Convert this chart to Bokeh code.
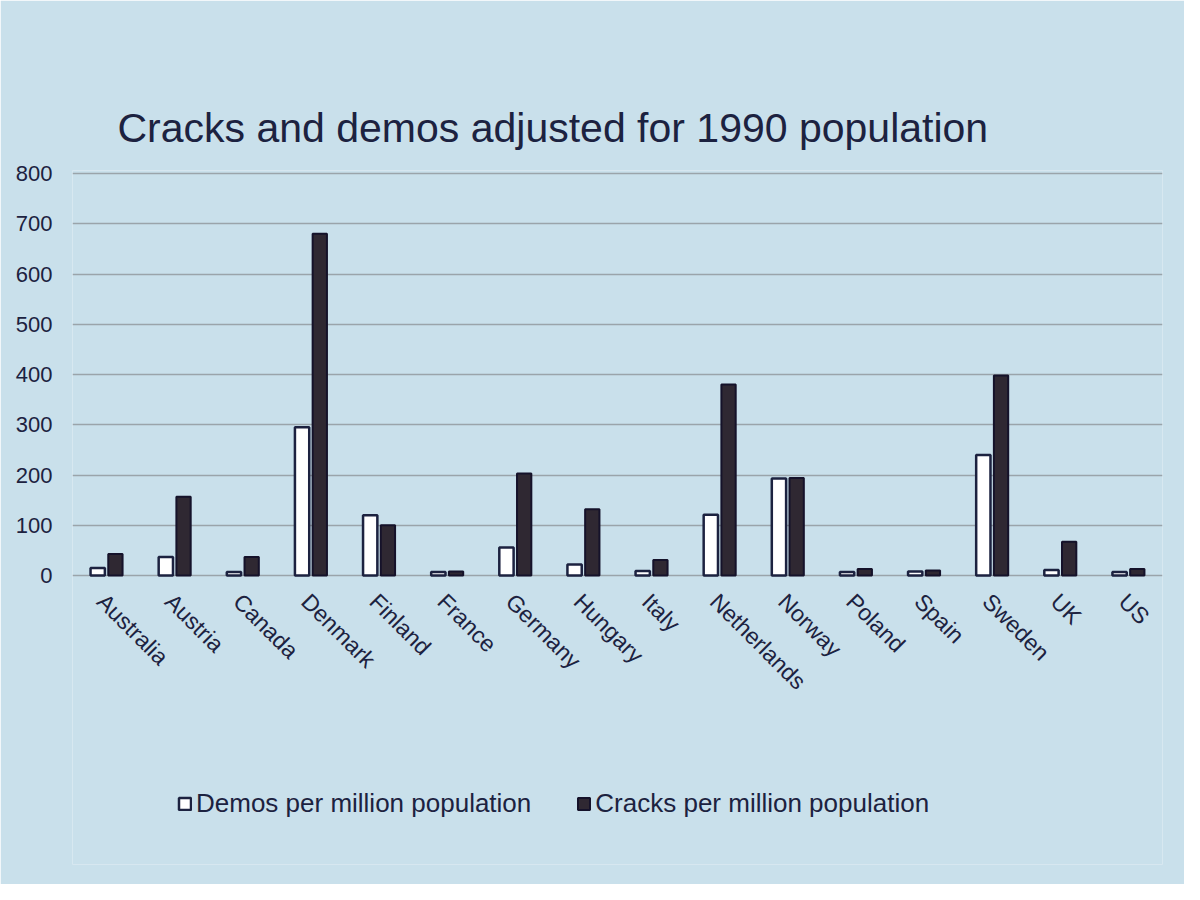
import math
from bokeh.plotting import figure
from bokeh.models import Range1d, Legend, LegendItem, FixedTicker
from bokeh.transform import dodge
from bokeh.core.properties import value
from bokeh.embed import file_html
from bokeh.resources import INLINE

countries = ["Australia", "Austria", "Canada", "Denmark", "Finland", "France",
             "Germany", "Hungary", "Italy", "Netherlands", "Norway", "Poland",
             "Spain", "Sweden", "UK", "US"]
demos = [15, 37, 7, 295, 120, 7, 56, 22, 9, 121, 193, 7, 8, 240, 11, 7]
cracks = [43, 157, 37, 680, 100, 8, 203, 132, 31, 380, 194, 13, 10, 398, 67, 13]
y_ticks = [0, 100, 200, 300, 400, 500, 600, 700, 800]

BG = "#c9e0eb"
INK = "#1c2240"
DARK = "#2f2832"
FONT = "Liberation Sans"

# frame spans from top of value area down to bottom of slide; values >= 0 use upper part
p = figure(width=1184, height=884, x_range=countries,
           y_range=Range1d(-575, 806),
           output_backend="svg", toolbar_location=None,
           background_fill_color=BG, border_fill_color=BG,
           min_border_left=72, min_border_right=22, min_border_top=170,
           min_border_bottom=20)
p.outline_line_color = None

p.title.text = "Cracks and  demos adjusted for 1990 population"
p.title.text_font = FONT
p.title.text_font_size = "41px"
p.title.text_font_style = "normal"
p.title.text_color = INK
p.title.offset = 45
p.title.standoff = 40

src = dict(country=countries, demos=demos, cracks=cracks)
r1 = p.vbar(x=dodge("country", -0.13, range=p.x_range), top="demos", width=0.21,
            source=src, fill_color="white", line_color=INK, line_width=2.5)
r2 = p.vbar(x=dodge("country", 0.13, range=p.x_range), top="cracks", width=0.21,
            source=src, fill_color=DARK, line_color="#15122a", line_width=2)

# category labels, rotated like the slide
p.text(x=dodge("country", -0.08, range=p.x_range), y=0, text="country", source=src,
       angle=-math.pi / 4, text_align="left", text_baseline="middle",
       x_offset=0, y_offset=22,
       text_font=value(FONT), text_font_size="23px", text_color=INK)

p.xaxis.visible = False
p.xgrid.grid_line_color = None
p.ygrid.grid_line_color = "#9aa4aa"
p.ygrid.grid_line_width = 1.5
p.yaxis.ticker = FixedTicker(ticks=y_ticks)
ax = p.yaxis[0]
ax.axis_line_color = None
ax.major_tick_line_color = None
ax.minor_tick_line_color = None
ax.major_label_text_font = FONT
ax.major_label_text_color = INK
ax.major_label_text_font_size = "22px"
ax.major_label_standoff = 14

legend = Legend(items=[LegendItem(label="Demos per million population", renderers=[r1]),
                       LegendItem(label="Cracks per million population", renderers=[r2])],
                orientation="horizontal", location=(105, 45),
                background_fill_alpha=0, border_line_color=None,
                label_text_font=FONT, label_text_font_size="26px",
                label_text_color=INK, glyph_width=15, glyph_height=15,
                spacing=45, margin=0, padding=4, label_standoff=4)
p.add_layout(legend)

open("out.html", "w").write(file_html(p, INLINE))
